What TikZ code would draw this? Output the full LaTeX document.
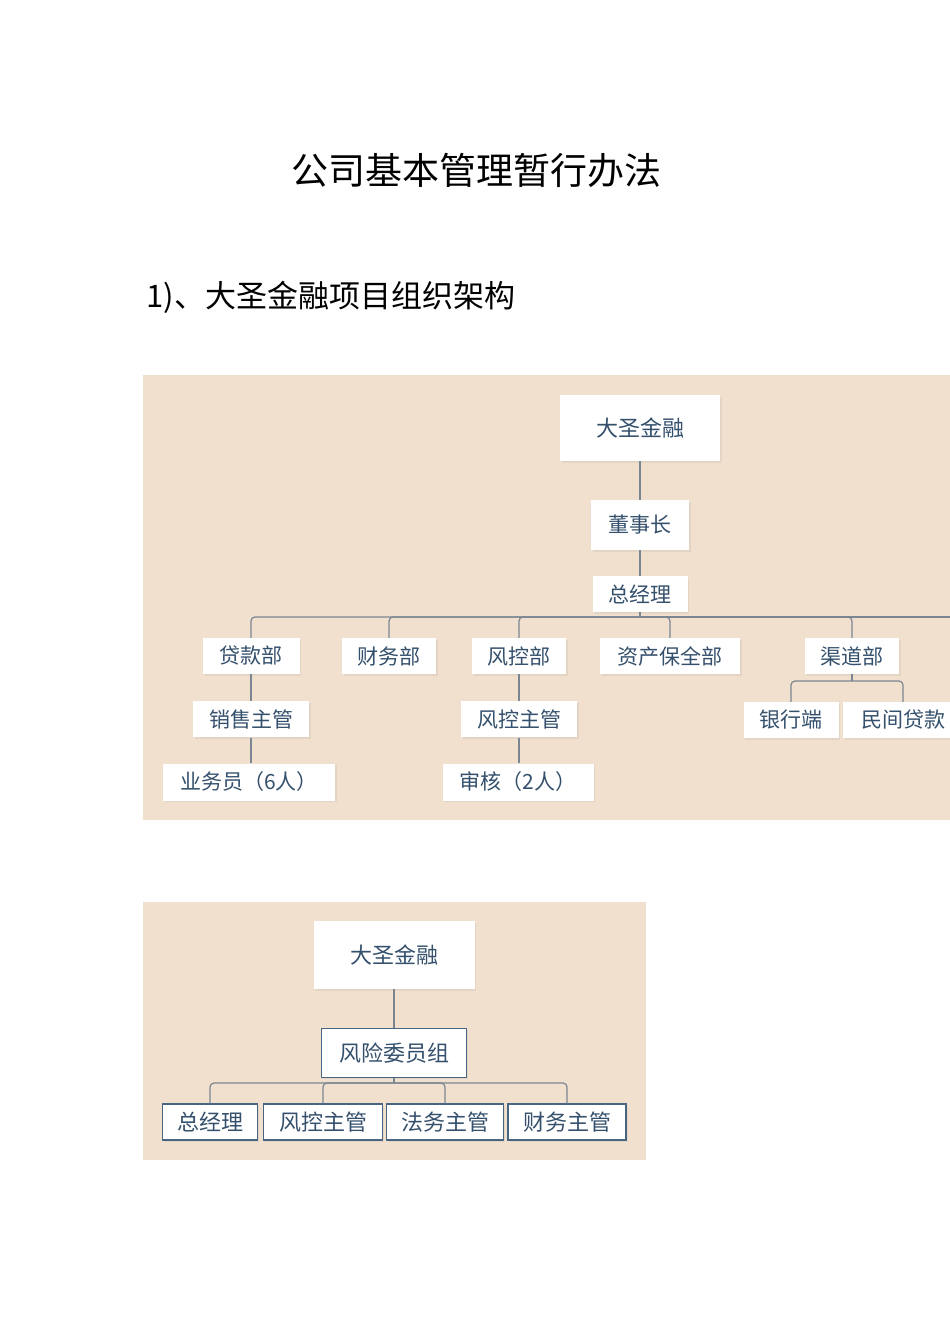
\documentclass[tikz,border=0pt]{standalone}
\usepackage{fontspec}
\usepackage{tikz}
\usetikzlibrary{positioning,shadows}
\newfontfamily\cjk{Noto Sans CJK SC}
\definecolor{chartbg}{RGB}{242,224,206}
\definecolor{boxtext}{RGB}{52,80,108}
\definecolor{linkgray}{RGB}{122,134,146}
\definecolor{boxedge}{RGB}{72,102,130}

\begin{document}
\begin{tikzpicture}[x=1pt, y=-1pt,
  unit/.style={fill=white, text=boxtext, inner sep=0pt, minimum height=36pt,
    font=\cjk\fontsize{21}{21}\selectfont,
    drop shadow={opacity=0.12, shadow xshift=1.5pt, shadow yshift=-1.5pt}},
  framed/.style={unit, draw=boxedge, line width=1.3pt, font=\cjk\fontsize{22}{22}\selectfont},
  link/.style={draw=linkgray, line width=1.2pt, rounded corners=4pt},
]
  \useasboundingbox (0,0) rectangle (950,1344);

  % Headings
  \node[font=\cjk\fontsize{37}{37}\selectfont] (title) at (476,170) {公司基本管理暂行办法};
  \node[font=\cjk\fontsize{31}{31}\selectfont, anchor=west] (heading) at (143,297) {1)、大圣金融项目组织架构};

  % Chart 1: project organisation
  \fill[chartbg] (143,375) rectangle (950,820);
  \begin{scope}
    \clip (143,375) rectangle (950,820);
    \node[unit, minimum width=160pt, minimum height=66pt, font=\cjk\fontsize{22}{22}\selectfont] (top) at (640,428) {大圣金融};
    \node[unit, minimum width=98pt, minimum height=50pt] (chair) at (640,525) {董事长};
    \node[unit, minimum width=95pt] (gm) at (640,594) {总经理};

    \node[unit, minimum width=97pt] (loan) at (251,656) {贷款部};
    \node[unit, minimum width=94pt] (finance) at (389,656) {财务部};
    \node[unit, minimum width=94pt] (risk) at (519,656) {风控部};
    \node[unit, minimum width=140pt] (asset) at (670,656) {资产保全部};
    \node[unit, minimum width=94pt] (channel) at (852,656) {渠道部};

    \node[unit, minimum width=116pt, below=27pt of loan] (salesmgr) {销售主管};
    \node[unit, minimum width=116pt, below=27pt of risk] (riskmgr) {风控主管};
    \node[unit, minimum width=95pt] (bank) at (791,720) {银行端};
    \node[unit, minimum width=120pt] (private) at (903,720) {民间贷款};

    \node[unit, minimum width=172pt, minimum height=37pt] (staff) at (249,782) {业务员（6人）};
    \node[unit, minimum width=151pt, minimum height=37pt] (audit) at (518,782) {审核（2人）};

    \coordinate (hub) at (640,617);
    \coordinate (chub) at (852,681);
    \draw[link] (top) -- (chair);
    \draw[link] (chair) -- (gm);
    \draw[link] (gm) -- (hub);
    \foreach \dept in {loan, finance, risk, asset, channel}
      \draw[link] (\dept.north) |- (hub);
    \draw[link] (hub) -- (960,617);
    \draw[link] (channel) -- (chub);
    \draw[link] (bank.north) |- (chub);
    \draw[link] (private.north) |- (chub);
    \draw[link] (loan) -- (salesmgr);
    \draw[link] (salesmgr.south) -- (salesmgr.south |- staff.north);
    \draw[link] (risk) -- (riskmgr);
    \draw[link] (riskmgr.south) -- (riskmgr.south |- audit.north);
  \end{scope}

  % Chart 2: risk committee
  \fill[chartbg] (143,902) rectangle (646,1160);
  \node[unit, minimum width=161pt, minimum height=68pt, font=\cjk\fontsize{22}{22}\selectfont] (top2) at (394,955) {大圣金融};
  \node[framed, minimum width=145pt, minimum height=49pt] (committee) at (394,1053) {风险委员组};
  \node[framed, minimum width=95pt] (gm2) at (210,1122) {总经理};
  \node[framed, minimum width=119pt] (riskhead) at (323,1122) {风控主管};
  \node[framed, minimum width=117pt] (lawhead) at (445,1122) {法务主管};
  \node[framed, minimum width=118pt] (finhead) at (567,1122) {财务主管};

  \coordinate (hub2) at (394,1083);
  \draw[link] (top2) -- (committee);
  \draw[link] (committee) -- (hub2);
  \foreach \member in {gm2, riskhead, lawhead, finhead}
    \draw[link] (\member.north) |- (hub2);
\end{tikzpicture}
\end{document}
